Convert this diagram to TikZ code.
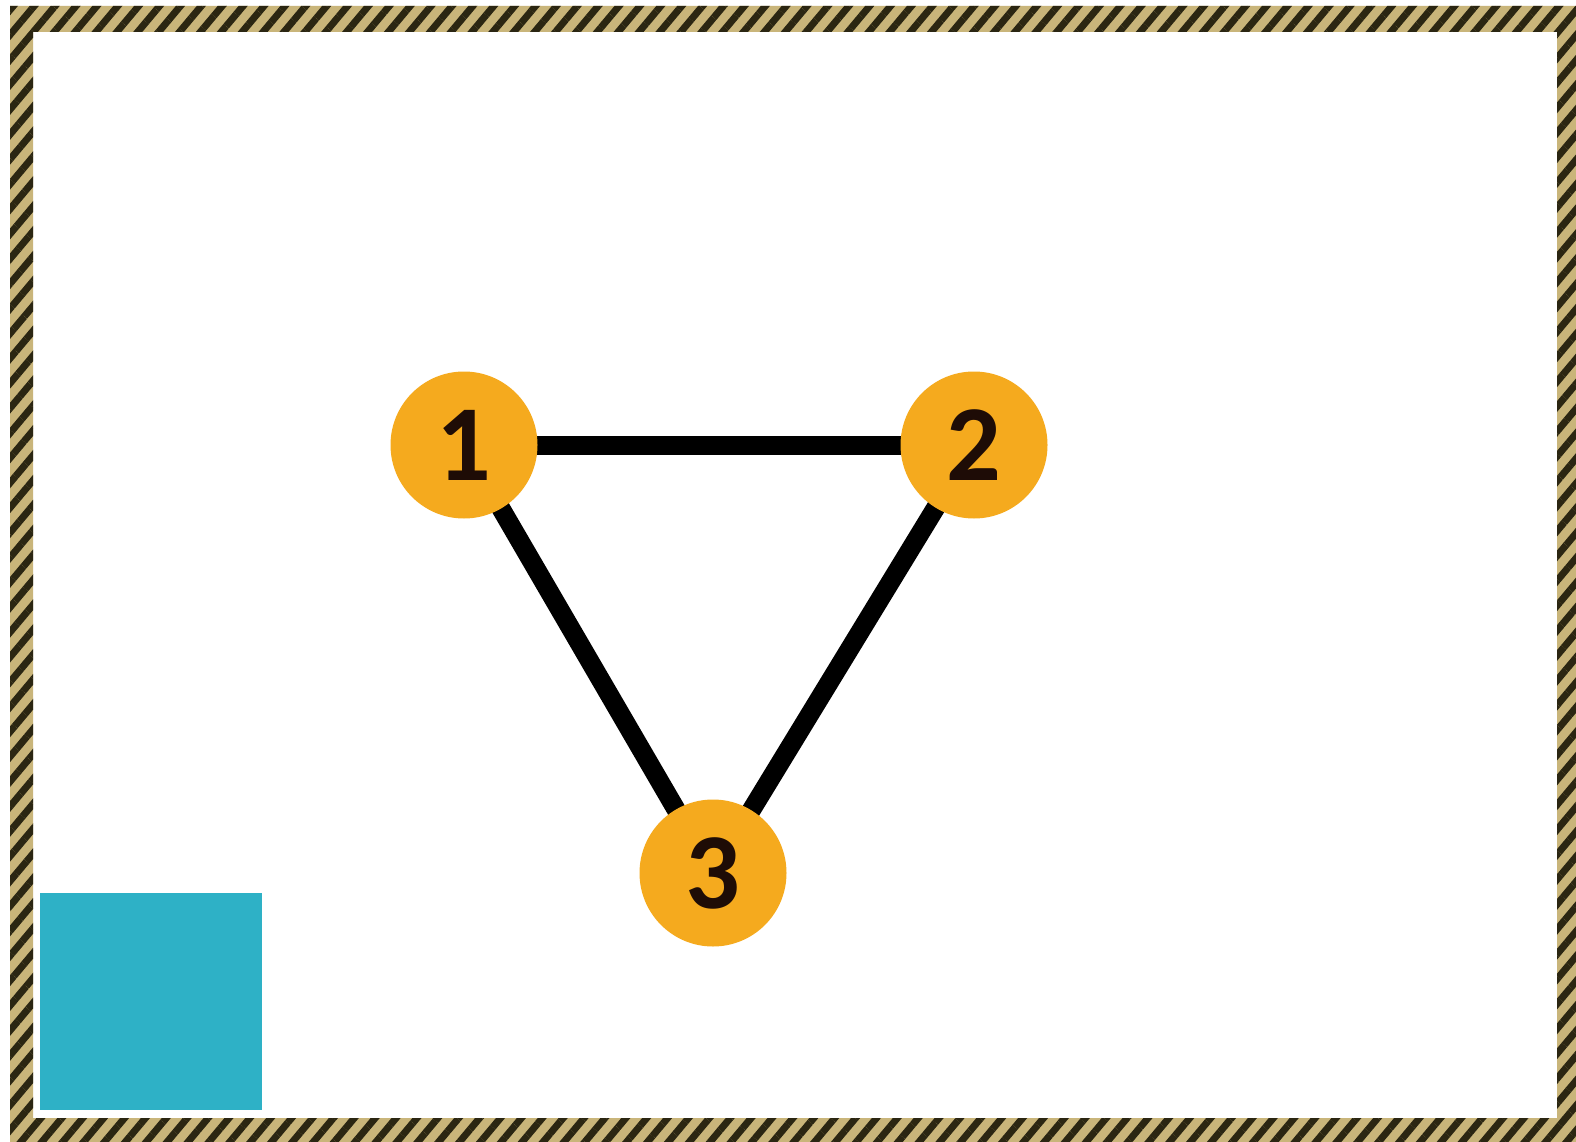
\documentclass[tikz,border=0pt]{standalone}
\usepackage{fontspec}
\setmainfont{Carlito}
\usetikzlibrary{patterns.meta,backgrounds}
\definecolor{vtxorange}{HTML}{F5AA1E}
\definecolor{sqblue}{HTML}{2EB1C6}
\definecolor{hatchtan}{HTML}{C9B57A}
\definecolor{hatchdark}{HTML}{2B2612}
\definecolor{digitdark}{HTML}{1E0C06}
\tikzset{
  vertex/.style={circle,fill=vtxorange,minimum size=147pt,inner sep=0pt,
    font=\fontsize{108}{108}\selectfont\bfseries,text=digitdark},
  edge/.style={line width=19pt,black}
}
\begin{document}
\begin{tikzpicture}[x=1pt,y=-1pt,line cap=butt]
  \useasboundingbox (0,0) rectangle (1576,1142);
  % graph
  \node[vertex] (n1) at (464,445) {1};
  \node[vertex] (n2) at (974,445) {2};
  \node[vertex] (n3) at (713,873) {3};
  \begin{scope}[on background layer]
    \fill[white] (0,0) rectangle (1576,1142);
    % hatched frame
    \fill[hatchtan,even odd rule] (10,6) rectangle (1576,1142) (33,32) rectangle (1557,1118);
    \fill[pattern={Lines[angle=50,distance=16pt,line width=7pt]},pattern color=hatchdark,even odd rule]
      (10,6) rectangle (1576,1142) (33,32) rectangle (1557,1118);
    % square
    \fill[sqblue] (40,893) rectangle (262,1110);
    \draw[edge] (n1.center) -- (n2.center);
    \draw[edge] (n1.center) -- (n3.center);
    \draw[edge] (n2.center) -- (n3.center);
  \end{scope}
\end{tikzpicture}
\end{document}
